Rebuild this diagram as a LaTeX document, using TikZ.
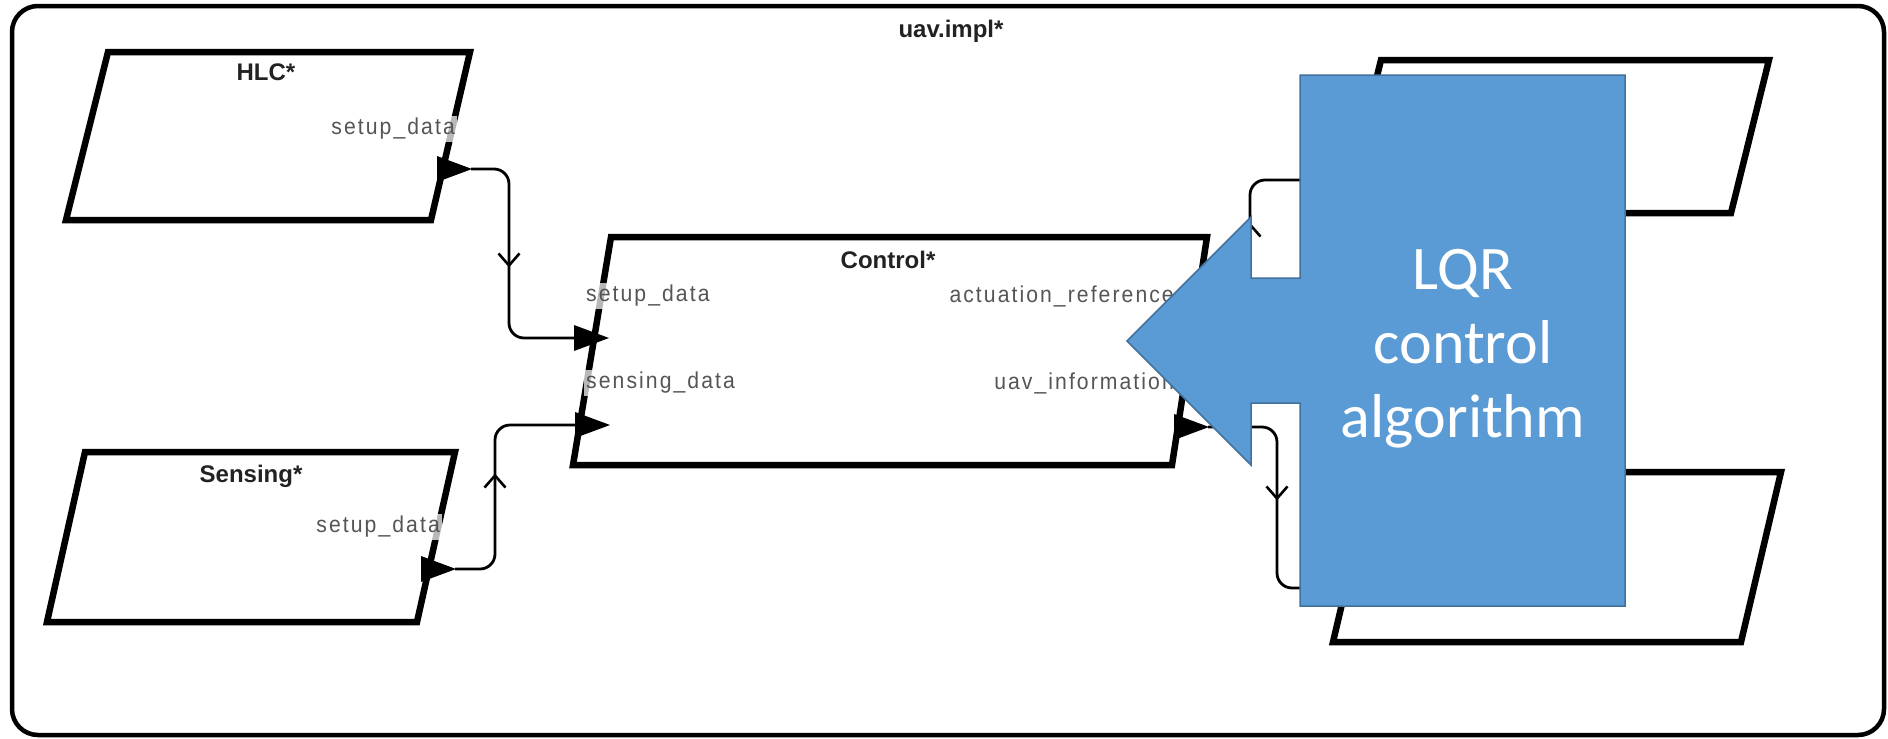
\documentclass[tikz,border=0pt]{standalone}
\usepackage{fontspec}
\setmainfont{Liberation Sans}
\newfontfamily\lblfont[FakeStretch=0.92,LetterSpace=9]{Liberation Sans}
\newfontfamily\calibfont{Carlito}
\usetikzlibrary{arrows.meta,decorations.markings,calc}
\definecolor{lblgray}{HTML}{555555}
\definecolor{ttlcol}{HTML}{222222}
\definecolor{callfill}{HTML}{5B9BD5}
\definecolor{callline}{HTML}{41719C}
\begin{document}
\begin{tikzpicture}[x=1pt,y=-1pt,
  block/.style={line width=6.5pt, line join=miter, fill=white, draw=black},
  lbl/.style={font=\lblfont\fontsize{23}{25}\selectfont, text=lblgray, fill=white, fill opacity=0.72, text opacity=1, inner sep=2pt},
  ttl/.style={font=\bfseries\fontsize{24}{26}\selectfont, text=ttlcol, inner sep=1pt},
  conn/.style={line width=2.8pt, rounded corners=15pt},
  midchev/.style={postaction={decorate}, decoration={markings, mark=at position #1 with {\arrow{Straight Barb[length=12pt,width=21pt,line width=2.6pt]}}}},
  portr/.style={fill=black}
]
\useasboundingbox (0,0) rectangle (1888,739);
\fill[white] (0,0) rectangle (1888,739);
% outer container
\draw[line width=4.5pt, rounded corners=26pt] (12,6) rectangle (1884,735);
\node[ttl] (impl) at (951,31) {uav.impl*};

% HLC
\draw[block] (108,52) -- (470,52) -- (431,220) -- (66,220) -- cycle;
\node[ttl] (hlc) at (266,72) {HLC*};
\node[lbl, anchor=east] (hlcsd) at (457,129) {setup\_data};
\coordinate (hlcbase) at (438,169);
\coordinate (hlcout) at (471,169);

% Sensing
\draw[block] (85,452) -- (455,452) -- (417,622) -- (47,622) -- cycle;
\node[ttl] (sens) at (251,476) {Sensing*};
\node[lbl, anchor=east] (senssd) at (442,527) {setup\_data};
\coordinate (sensbase) at (422,569);
\coordinate (sensout) at (455,569);

% Control
\draw[block] (611,237) -- (1207,237) -- (1172,465) -- (573,465) -- cycle;
\node[ttl] (ctl) at (888,260) {Control*};
\node[lbl, anchor=west] (ctlsd) at (584,296) {setup\_data};
\node[lbl, anchor=west] (ctlsens) at (584,383) {sensing\_data};
\node[lbl, anchor=east] (ctlact) at (1176,296) {actuation\_reference};
\node[lbl, anchor=east] (ctluav) at (1176,383) {uav\_information};
\coordinate (ctlin1) at (575,338);
\coordinate (ctlin2) at (576,425);
\coordinate (ctlactbase) at (1190,338);
\coordinate (ctlactout) at (1223,338);
\coordinate (ctluavbase) at (1175,427);
\coordinate (ctluavout) at (1208,427);

% right blocks (mostly hidden)
\draw[block] (1381,60) -- (1769,60) -- (1731,213) -- (1343,213) -- cycle;
\draw[block] (1373,472) -- (1781,472) -- (1741,642) -- (1333,642) -- cycle;
\coordinate (actin) at (1351,180);
\coordinate (uavin) at (1346,588);

% connectors
\draw[conn, midchev=130pt] (hlcout) -- ([xshift=38pt]hlcout) |- (ctlin1);
\draw[conn, midchev=129pt] (sensout) -- ([xshift=40pt]sensout) |- (ctlin2);
\draw[conn, midchev=136pt] (ctlactout) -- ([xshift=27pt]ctlactout) |- (actin);
\draw[conn, midchev=136pt] (ctluavout) -- ([xshift=69pt]ctluavout) |- (uavin);

% port triangles
\foreach \b in {hlcbase,sensbase,ctlin1,ctlin2,ctlactbase,ctluavbase}{
  \fill[portr] ($(\b)+(-1,-13)$) -- ($(\b)+(34,0)$) -- ($(\b)+(-1,13)$) -- cycle;
}

% LQR callout
\draw[fill=callfill, draw=callline, line width=1.5pt, line join=miter]
  (1300,75) -- (1625,75) -- (1625,606) -- (1300,606) -- (1300,403) -- (1251,403)
  -- (1251,465) -- (1127,341) -- (1251,217) -- (1251,278) -- (1300,278) -- cycle;
\node[font=\calibfont\fontsize{62}{74}\selectfont, text=white, align=center] (lqr) at (1463,349) {LQR\\control\\algorithm};
\end{tikzpicture}
\end{document}
